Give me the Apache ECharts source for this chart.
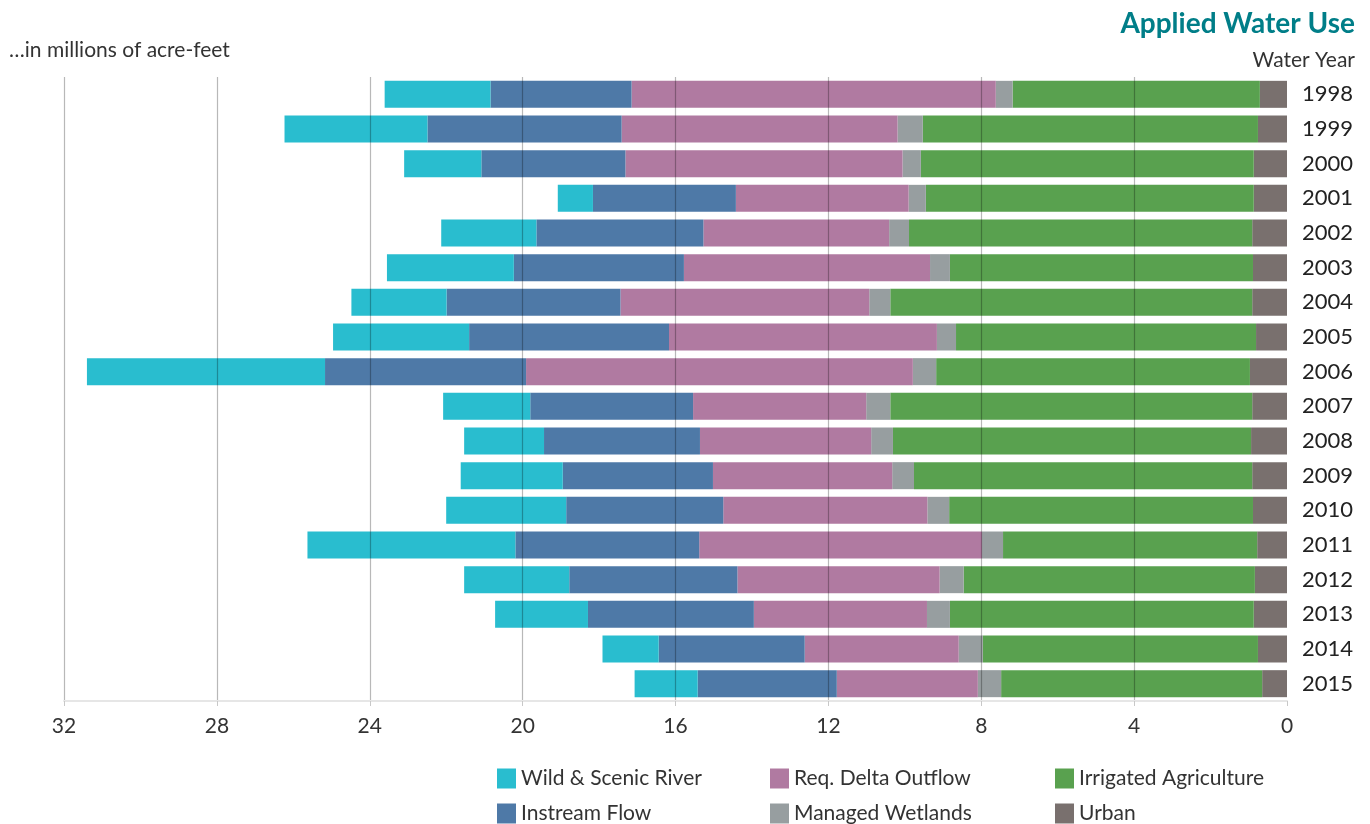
<!DOCTYPE html>
<html>
<head>
<meta charset="utf-8">
<script src="https://cdn.jsdelivr.net/npm/echarts@6/dist/echarts.min.js"></script>
<style>
html,body{margin:0;padding:0;background:#fff;}
#chart{width:1370px;height:824px;}
</style>
</head>
<body>
<div id="chart"></div>
<script>
const years = ['1998','1999','2000','2001','2002','2003','2004','2005','2006','2007','2008','2009','2010','2011','2012','2013','2014','2015'];
const xTicks = [0,4,8,12,16,20,24,28,32];
const urban       = [0.71,0.76,0.87,0.87,0.91,0.89,0.91,0.81,0.97,0.91,0.94,0.91,0.89,0.78,0.84,0.87,0.76,0.65];
const irrigatedAg = [6.47,8.77,8.71,8.58,8.98,7.93,9.47,7.85,8.21,9.47,9.37,8.85,7.95,6.65,7.62,7.95,7.20,6.83];
const wetlands    = [0.44,0.66,0.48,0.45,0.52,0.52,0.55,0.50,0.61,0.63,0.57,0.57,0.57,0.55,0.63,0.60,0.63,0.61];
const deltaOut    = [9.53,7.22,7.25,4.52,4.86,6.44,6.51,7.01,10.12,4.53,4.48,4.69,5.34,7.40,5.29,4.53,4.03,3.69];
const instream    = [3.69,5.08,3.77,3.74,4.37,4.45,4.55,5.23,5.26,4.26,4.08,3.93,4.11,4.81,4.40,4.34,3.82,3.64];
const wildScenic  = [2.77,3.74,2.02,0.92,2.49,3.32,2.49,3.56,6.23,2.28,2.09,2.67,3.14,5.44,2.75,2.43,1.47,1.65];

const FONT = 'Lato, "Noto Sans", sans-serif';
const chart = echarts.init(document.getElementById('chart'), null, {renderer:'canvas'});

function s(name, data, color){
  return {name, type:'bar', stack:'total', data, barWidth:27,
    itemStyle:{color}, emphasis:{disabled:true}, z:2};
}

const legendBase = {orient:'vertical', itemWidth:19, itemHeight:20, itemGap:14, padding:0,
  icon:'rect', textStyle:{fontFamily:FONT, fontSize:21, color:'#333'}, top:768, selectedMode:false};

chart.setOption({
  animation:false,
  title:[
    {text:'Applied Water Use', right:10, top:5, textStyle:{fontFamily:FONT, fontSize:28, fontWeight:'bold', color:'#007E88'}},
    {text:'Water Year', right:10, top:45, textStyle:{fontFamily:FONT, fontSize:21, fontWeight:'normal', color:'#333'}},
    {text:'…in millions of acre-feet', left:4, top:35, textStyle:{fontFamily:FONT, fontSize:21, fontWeight:'normal', color:'#333'}}
  ],
  legend:[
    Object.assign({}, legendBase, {left:497, data:['Wild & Scenic River','Instream Flow']}),
    Object.assign({}, legendBase, {left:770, data:['Req. Delta Outflow','Managed Wetlands']}),
    Object.assign({}, legendBase, {left:1055, data:['Irrigated Agriculture','Urban']})
  ],
  grid:{left:64, right:83, top:77, bottom:123, containLabel:false},
  xAxis:{
    type:'value', inverse:true, min:xTicks[0], max:xTicks[xTicks.length-1], interval:4, z:5,
    axisLine:{show:true, lineStyle:{color:'#e6e6e6', width:2}},
    axisTick:{show:true, length:5, lineStyle:{color:'#c8c8c8'}},
    axisLabel:{fontFamily:FONT, fontSize:21, color:'#333', margin:15},
    splitLine:{show:true, showMinLine:false, lineStyle:{color:'rgba(0,0,0,0.28)', width:1.2}}
  },
  yAxis:{
    type:'category', data:years, inverse:true, position:'right',
    axisLine:{show:false}, axisTick:{show:false},
    axisLabel:{fontFamily:FONT, fontSize:22, color:'#222', margin:15}
  },
  series:[
    s('Urban', urban, '#79706E'),
    s('Irrigated Agriculture', irrigatedAg, '#59A14F'),
    s('Managed Wetlands', wetlands, '#979EA0'),
    s('Req. Delta Outflow', deltaOut, '#B07AA1'),
    s('Instream Flow', instream, '#4E79A7'),
    s('Wild & Scenic River', wildScenic, '#29BDCF')
  ]
});
</script>
</body>
</html>
